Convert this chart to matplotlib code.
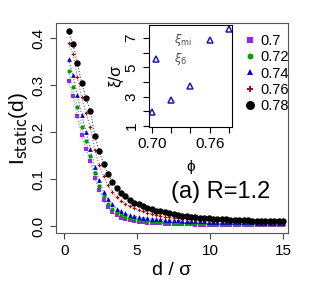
import matplotlib
matplotlib.use("Agg")
import matplotlib.pyplot as plt

plt.rcParams['font.family'] = ['Liberation Sans', 'DejaVu Sans']

# distance d/sigma
d = [0.3 * k for k in range(1, 51)]

phis = ['0.7', '0.72', '0.74', '0.76', '0.78']

i_070 = [0.309, 0.277, 0.234, 0.194, 0.165, 0.138, 0.102, 0.076, 0.055, 0.040,
         0.030, 0.023, 0.018, 0.015, 0.012, 0.010, 0.009, 0.008, 0.0072, 0.0065,
         0.006, 0.0055, 0.005, 0.0047, 0.0044, 0.0041, 0.0038, 0.0036, 0.0034, 0.0032,
         0.003, 0.0029, 0.0028, 0.0027, 0.0026, 0.0025, 0.0024, 0.0023, 0.0022, 0.0021,
         0.002, 0.002, 0.0019, 0.0019, 0.0018, 0.0018, 0.0017, 0.0017, 0.0016, 0.0016]
i_072 = [0.330, 0.296, 0.254, 0.211, 0.180, 0.150, 0.112, 0.085, 0.063, 0.048,
         0.037, 0.029, 0.024, 0.020, 0.017, 0.015, 0.0135, 0.0122, 0.011, 0.010,
         0.0093, 0.0087, 0.0082, 0.0077, 0.0073, 0.007, 0.0067, 0.0064, 0.0061, 0.0059,
         0.0057, 0.0055, 0.0053, 0.0051, 0.005, 0.0048, 0.0047, 0.0046, 0.0045, 0.0044,
         0.0043, 0.0042, 0.0041, 0.004, 0.0039, 0.0038, 0.0037, 0.0036, 0.0035, 0.0034]
i_074 = [0.355, 0.321, 0.280, 0.236, 0.200, 0.165, 0.125, 0.097, 0.073, 0.058,
         0.046, 0.037, 0.031, 0.027, 0.024, 0.021, 0.019, 0.018, 0.017, 0.016,
         0.015, 0.014, 0.0135, 0.013, 0.0125, 0.012, 0.0115, 0.011, 0.0106, 0.0103,
         0.010, 0.0097, 0.0094, 0.0091, 0.0089, 0.0087, 0.0085, 0.0083, 0.0081, 0.0079,
         0.0078, 0.0077, 0.0076, 0.0075, 0.0074, 0.0073, 0.0072, 0.0071, 0.0070, 0.0070]
i_076 = [0.389, 0.367, 0.318, 0.274, 0.240, 0.210, 0.162, 0.130, 0.106, 0.087,
         0.073, 0.062, 0.054, 0.048, 0.042, 0.038, 0.034, 0.031, 0.028, 0.026,
         0.024, 0.022, 0.020, 0.019, 0.018, 0.017, 0.016, 0.015, 0.0142, 0.0135,
         0.013, 0.0125, 0.012, 0.0115, 0.011, 0.0106, 0.0102, 0.0099, 0.0096, 0.0094,
         0.0092, 0.009, 0.0088, 0.0086, 0.0085, 0.0084, 0.0083, 0.0082, 0.0081, 0.008]
i_078 = [0.415, 0.388, 0.348, 0.305, 0.272, 0.245, 0.192, 0.160, 0.133, 0.111,
         0.094, 0.081, 0.071, 0.063, 0.056, 0.050, 0.046, 0.042, 0.039, 0.036,
         0.033, 0.031, 0.029, 0.027, 0.025, 0.024, 0.022, 0.021, 0.020, 0.019,
         0.018, 0.017, 0.0165, 0.016, 0.015, 0.0145, 0.014, 0.0135, 0.013, 0.0127,
         0.0124, 0.0121, 0.0118, 0.0115, 0.0112, 0.011, 0.0108, 0.0106, 0.0104, 0.0102]

# inset: correlation lengths vs packing fraction
phi_in = [0.70, 0.704, 0.72, 0.74, 0.76, 0.78]
xi_in = [1.95, 5.6, 2.77, 3.73, 6.9, 7.6]

series = [i_070, i_072, i_074, i_076, i_078]
colors = ['#A020F0', '#00A000', '#0000CD', '#A01010', 'black']
markers = ['s', 'o', '^', 'P', 'o']
sizes = [3.0, 3.0, 3.4, 2.6, 4.6]

fig = plt.figure(figsize=(3.11, 3.0), dpi=100)
ax = fig.add_axes([0.180, 0.223, 0.746, 0.700])

for y, c, m, s, lab in zip(series, colors, markers, sizes, phis):
    ax.plot(d, y, ':', color=c, lw=0.8, alpha=0.7)
    ax.plot(d, y, m, color=c, ms=s, mew=0, label=lab)

ax.set_xlim(-0.56, 15.35)
ax.set_ylim(-0.015, 0.432)
ax.set_xticks([0, 5, 10, 15])
ax.set_yticks([0.0, 0.1, 0.2, 0.3, 0.4])
ax.set_yticklabels(['0.0', '0.1', '0.2', '0.3', '0.4'], rotation=90, va='center')
ax.tick_params(labelsize=11, length=4, color='#444444', direction='out')
for sp in ax.spines.values():
    sp.set_color('#555555')
ax.set_xlabel('d / σ', fontsize=14, labelpad=3)
ax.set_ylabel(r'I$_{\rm static}$(d)', fontsize=15, labelpad=1)
fig.text(0.711, 0.36, '(a) R=1.2', fontsize=17, ha='center', va='center')

leg = ax.legend(loc='upper left', bbox_to_anchor=(0.785, 0.975), frameon=False,
                fontsize=10.5, handletextpad=0.3, labelspacing=0.15,
                handlelength=0.8, borderaxespad=0, markerscale=1.4)

# inset
axin = fig.add_axes([0.479, 0.577, 0.267, 0.340])
axin.plot(phi_in, xi_in, '^', mfc='none', mec='#1C1CA8', ms=5, mew=1.1)
axin.set_xlim(0.697, 0.783)
axin.set_ylim(0.93, 7.9)
axin.set_xticks([0.70, 0.72, 0.74, 0.76, 0.78])
axin.set_xticklabels(['0.70', '', '', '0.76', ''])
axin.set_yticks([1, 2, 3, 4, 5, 6, 7])
axin.set_yticklabels(['1', '', '3', '', '5', '', '7'], rotation=90, va='center')
axin.tick_params(labelsize=11, length=4, direction='out')
axin.set_xlabel('ϕ', fontsize=11, labelpad=6)
axin.set_ylabel('ξ/σ', fontsize=12, labelpad=1)
axin.text(0.30, 0.82, r'$\xi_{\rm mi}$', transform=axin.transAxes,
          fontsize=8.5, color='#505050')
axin.text(0.30, 0.64, r'$\xi_{\rm 6}$', transform=axin.transAxes,
          fontsize=8.5, color='#505050')

fig.savefig('out.png', dpi=100)
